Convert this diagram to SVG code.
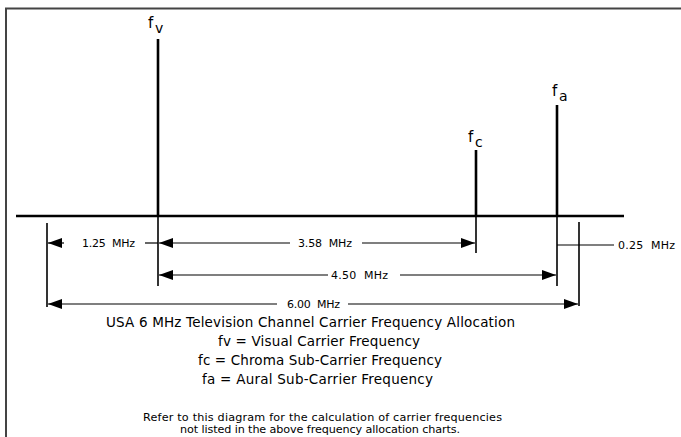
<svg xmlns="http://www.w3.org/2000/svg" width="681" height="437" viewBox="0 0 681 437">
<style>
.t{font-family:"DejaVu Sans","Liberation Sans",sans-serif;fill:#000}
.dim{stroke:#000;stroke-width:1.2;fill:none}
.ext{stroke:#000;stroke-width:1.6;fill:none}
.car{stroke:#000;stroke-width:2.6;fill:none}
.lbl{font-size:11px}
.main{font-size:13.5px}
.small{font-size:11.2px}
.fl{font-size:15px}
.sub{font-size:14px}
</style>
<defs>
<marker id="ah" viewBox="0 0 14 10" refX="14" refY="5" markerWidth="14" markerHeight="10" markerUnits="userSpaceOnUse" orient="auto">
<path d="M0,0 L14,5 L0,10 Z" fill="#000"/>
</marker>
</defs>
<rect width="681" height="437" fill="#fff"/>
<g id="frame">
<path d="M6,437 V8.5 H681" stroke="#444" stroke-width="2" fill="none"/>
</g>
<g id="axis">
<line class="car" x1="16" y1="216" x2="624" y2="216" stroke-width="3"/>
</g>
<g id="fv">
<line class="car" x1="158" y1="39" x2="158" y2="216"/>
<text class="t fl" x="148" y="28">f</text><text class="t sub" x="155" y="33">v</text>
</g>
<g id="fc">
<line class="car" x1="476" y1="150" x2="476" y2="216"/>
<text class="t fl" x="468" y="142">f</text><text class="t sub" x="475" y="147">c</text>
</g>
<g id="fa">
<line class="car" x1="557" y1="105" x2="557" y2="216"/>
<text class="t fl" x="552" y="96">f</text><text class="t sub" x="559" y="101">a</text>
</g>
<g id="connectors">
<line class="ext" x1="47" y1="223" x2="47" y2="307"/>
<line class="ext" x1="158" y1="216" x2="158" y2="286"/>
<line class="ext" x1="476" y1="216" x2="476" y2="253"/>
<line class="ext" x1="557" y1="216" x2="557" y2="286"/>
<line class="ext" x1="579" y1="222" x2="579" y2="306"/>
<line class="dim" x1="64" y1="243" x2="48" y2="243" marker-end="url(#ah)"/>
<line class="dim" x1="145" y1="243" x2="158" y2="243"/>
<line class="dim" x1="290" y1="243" x2="159" y2="243" marker-end="url(#ah)"/>
<line class="dim" x1="362" y1="243" x2="475" y2="243" marker-end="url(#ah)"/>
<line class="dim" x1="328" y1="275" x2="159" y2="275" marker-end="url(#ah)"/>
<line class="dim" x1="400" y1="275" x2="556" y2="275" marker-end="url(#ah)"/>
<line class="dim" x1="277" y1="304" x2="48" y2="304" marker-end="url(#ah)"/>
<line class="dim" x1="348" y1="304" x2="578" y2="304" marker-end="url(#ah)"/>
<line class="dim" x1="557" y1="245" x2="614" y2="245"/>
</g>
<g id="labels">
<text class="t lbl" x="82" y="247" textLength="53">1.25&#160; MHz</text>
<text class="t lbl" x="298" y="247" textLength="54">3.58&#160; MHz</text>
<text class="t lbl" x="331" y="279" textLength="57">4.50&#160; MHz</text>
<text class="t lbl" x="287" y="308" textLength="53">6.00&#160; MHz</text>
<text class="t lbl" x="618" y="249" textLength="57">0.25&#160; MHz</text>
</g>
<g id="caption">
<text class="t main" x="106" y="327" textLength="409">USA 6 MHz Television Channel Carrier Frequency Allocation</text>
<text class="t main" x="218" y="346" textLength="202">fv = Visual Carrier Frequency</text>
<text class="t main" x="198" y="365" textLength="244">fc = Chroma Sub-Carrier Frequency</text>
<text class="t main" x="202" y="384" textLength="231">fa = Aural Sub-Carrier Frequency</text>
<text class="t small" x="143" y="421" textLength="359">Refer to this diagram for the calculation of carrier frequencies</text>
<text class="t small" x="180" y="433" textLength="280">not listed in the above frequency allocation charts.</text>
</g>
</svg>
